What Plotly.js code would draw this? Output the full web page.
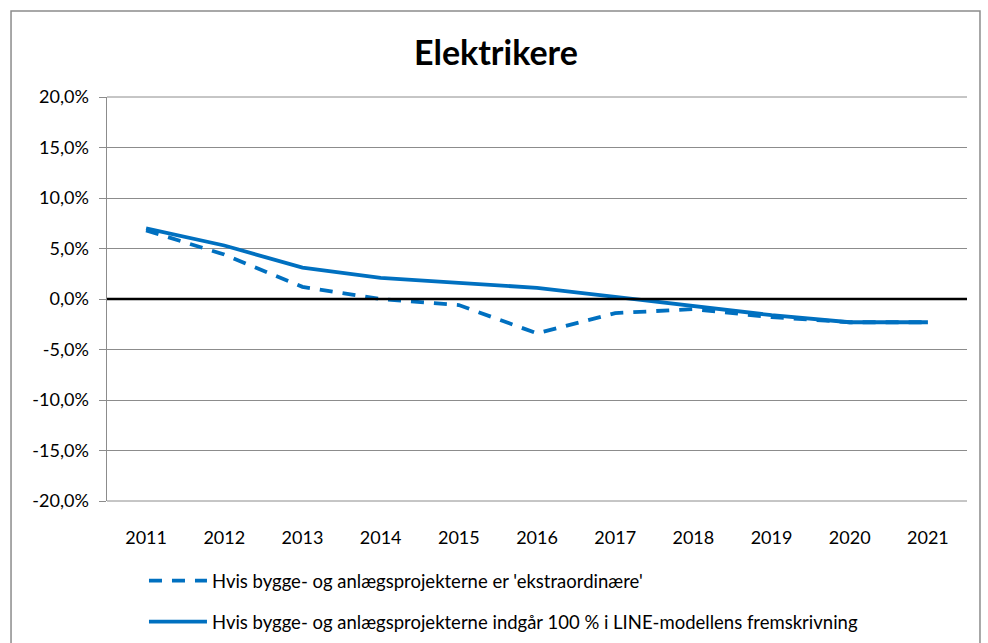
<!DOCTYPE html>
<html>
<head>
<meta charset="utf-8">
<script src="https://cdn.plot.ly/plotly-3.0.1.min.js"></script>
<style>html,body{margin:0;padding:0;background:#fff;} #chart{width:988px;height:643px;}</style>
</head>
<body>
<div id="chart"></div>
<script>
const years = ['2011','2012','2013','2014','2015','2016','2017','2018','2019','2020','2021'];
const ekstraordinaere = [6.8, 4.4, 1.2, 0.0, -0.6, -3.4, -1.4, -1.0, -1.8, -2.3, -2.3];
const line100 = [7.0, 5.3, 3.1, 2.1, 1.6, 1.1, 0.2, -0.7, -1.6, -2.3, -2.3];
const seriesNames = ["Hvis bygge- og anlægsprojekterne er 'ekstraordinære'",
                     "Hvis bygge- og anlægsprojekterne indgår 100 % i LINE-modellens fremskrivning"];
const yTickVals = [-20, -15, -10, -5, 0, 5, 10, 15, 20];
const yTickText = ['-20,0%', '-15,0%', '-10,0%', '-5,0%', '0,0%', '5,0%', '10,0%', '15,0%', '20,0%'];
const chartTitle = 'Elektrikere';

const blue = '#0070C0';
const font = 'Lato, "Open Sans", sans-serif';

const traces = [
  {x: years, y: ekstraordinaere, name: seriesNames[0], type: 'scatter', mode: 'lines',
   line: {color: blue, width: 3.8, dash: '13px,10px'}, legendgroup: 'a'},
  {x: years, y: line100, name: seriesNames[1], type: 'scatter', mode: 'lines',
   line: {color: blue, width: 3.8}, legendgroup: 'b'}
];

const layout = {
  width: 988, height: 643,
  margin: {l: 107, r: 21, t: 97, b: 142, autoexpand: false},
  paper_bgcolor: '#fff', plot_bgcolor: '#fff',
  font: {family: font, size: 18, color: '#000'},
  title: {text: '<b>' + chartTitle + '</b>', font: {family: font, size: 34, color: '#000'},
          x: 0.502, xanchor: 'center', y: 0.918, yanchor: 'middle'},
  showlegend: true,
  legend: {x: 0.043, xanchor: 'left', y: -0.151, yanchor: 'top', orientation: 'v',
           traceorder: 'grouped', tracegroupgap: 14, itemwidth: 58,
           font: {family: font, size: 18.5, color: '#000'}, bgcolor: 'rgba(0,0,0,0)'},
  xaxis: {type: 'category', range: [-0.5, 10.5], showgrid: false, zeroline: false,
          showline: false, ticks: '', tickfont: {family: font, size: 18}, automargin: false,
          ticklabelstandoff: 24},
  yaxis: {range: [-20, 20], tickvals: yTickVals, ticktext: yTickText,
          showgrid: true, gridcolor: '#8c8c8c', gridwidth: 1,
          zeroline: false,
          showline: true, linecolor: '#8c8c8c', linewidth: 1.5,
          ticks: 'outside', ticklen: 7, tickcolor: '#8c8c8c', tickwidth: 1,
          tickfont: {family: font, size: 18}, automargin: false, ticklabelstandoff: 6},
  shapes: [
    {type: 'rect', xref: 'paper', yref: 'paper', x0: -0.1116, x1: 1.0151, y0: -0.5, y1: 1.2129,
     line: {color: '#8c8c8c', width: 1.5}, fillcolor: 'rgba(0,0,0,0)', layer: 'below'},
    {type: 'line', xref: 'paper', yref: 'paper', x0: 0, x1: 1, y0: 1, y1: 1,
     line: {color: '#8c8c8c', width: 1}, layer: 'between'},
    {type: 'line', xref: 'paper', yref: 'paper', x0: 0, x1: 1, y0: 0, y1: 0,
     line: {color: '#8c8c8c', width: 1}, layer: 'between'},
    {type: 'line', xref: 'paper', yref: 'paper', x0: 0, x1: 1, y0: 0.5, y1: 0.5,
     line: {color: '#000', width: 2.5}, layer: 'above'}
  ]
};

Plotly.newPlot('chart', traces, layout, {displayModeBar: false, staticPlot: true});
</script>
</body>
</html>
